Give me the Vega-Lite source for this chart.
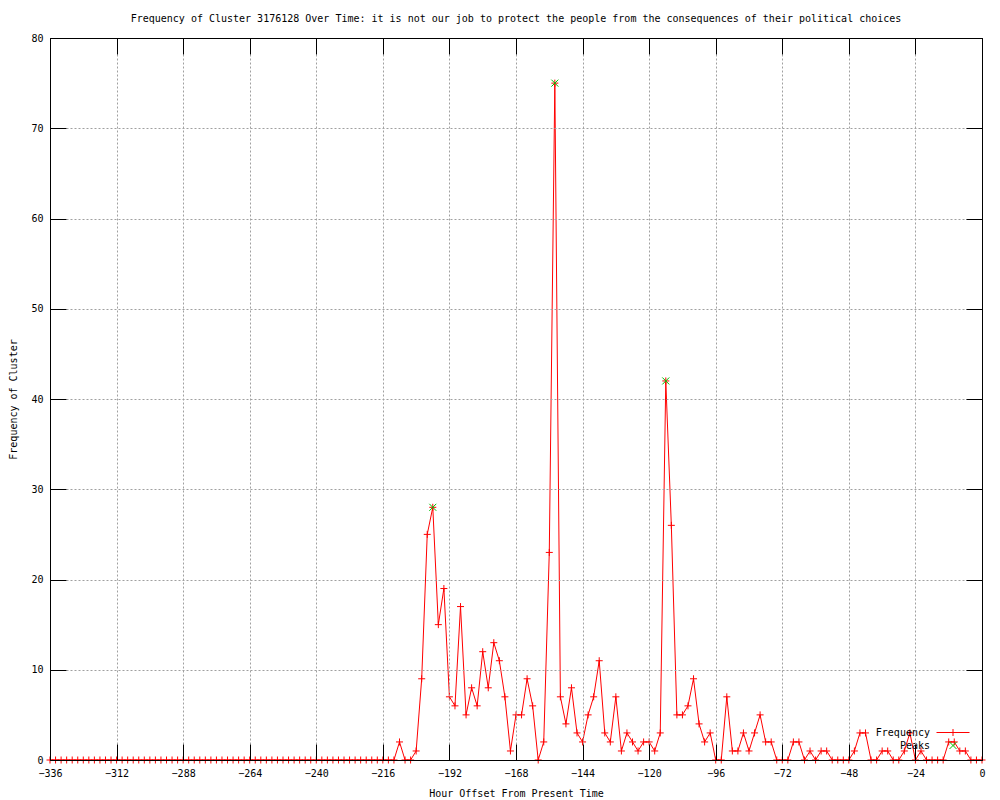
{
  "$schema": "https://vega.github.io/schema/vega-lite/v6.json",
  "width": 932,
  "height": 722,
  "autosize": {"type": "none"},
  "padding": {"left": 50, "top": 38, "right": 18, "bottom": 40},
  "background": "white",
  "title": {
    "text": "Frequency of Cluster 3176128 Over Time: it is not our job to protect the people from the consequences of their political choices",
    "font": "DejaVu Sans Mono",
    "fontSize": 10,
    "fontWeight": "normal",
    "color": "black",
    "anchor": "middle",
    "offset": 9
  },
  "config": {
    "font": "DejaVu Sans Mono",
    "view": {"stroke": "black", "strokeWidth": 1},
    "axis": {
      "labelFont": "DejaVu Sans Mono",
      "labelFontSize": 10,
      "labelColor": "black",
      "labelFlush": false,
      "labelOverlap": false,
      "titleFont": "DejaVu Sans Mono",
      "titleFontSize": 10,
      "titleFontWeight": "normal",
      "titleColor": "black",
      "tickColor": "black",
      "tickWidth": 1,
      "tickSize": -16,
      "domain": true,
      "domainColor": "black",
      "domainWidth": 1,
      "gridColor": "#a0a0a0",
      "gridDash": [2, 2],
      "gridWidth": 1,
      "gridOpacity": 1
    }
  },
  "datasets": {
    "freq": [
      {"hour": -336, "freq": 0}, {"hour": -334, "freq": 0}, {"hour": -332, "freq": 0}, {"hour": -330, "freq": 0},
      {"hour": -328, "freq": 0}, {"hour": -326, "freq": 0}, {"hour": -324, "freq": 0}, {"hour": -322, "freq": 0},
      {"hour": -320, "freq": 0}, {"hour": -318, "freq": 0}, {"hour": -316, "freq": 0}, {"hour": -314, "freq": 0},
      {"hour": -312, "freq": 0}, {"hour": -310, "freq": 0}, {"hour": -308, "freq": 0}, {"hour": -306, "freq": 0},
      {"hour": -304, "freq": 0}, {"hour": -302, "freq": 0}, {"hour": -300, "freq": 0}, {"hour": -298, "freq": 0},
      {"hour": -296, "freq": 0}, {"hour": -294, "freq": 0}, {"hour": -292, "freq": 0}, {"hour": -290, "freq": 0},
      {"hour": -288, "freq": 0}, {"hour": -286, "freq": 0}, {"hour": -284, "freq": 0}, {"hour": -282, "freq": 0},
      {"hour": -280, "freq": 0}, {"hour": -278, "freq": 0}, {"hour": -276, "freq": 0}, {"hour": -274, "freq": 0},
      {"hour": -272, "freq": 0}, {"hour": -270, "freq": 0}, {"hour": -268, "freq": 0}, {"hour": -266, "freq": 0},
      {"hour": -264, "freq": 0}, {"hour": -262, "freq": 0}, {"hour": -260, "freq": 0}, {"hour": -258, "freq": 0},
      {"hour": -256, "freq": 0}, {"hour": -254, "freq": 0}, {"hour": -252, "freq": 0}, {"hour": -250, "freq": 0},
      {"hour": -248, "freq": 0}, {"hour": -246, "freq": 0}, {"hour": -244, "freq": 0}, {"hour": -242, "freq": 0},
      {"hour": -240, "freq": 0}, {"hour": -238, "freq": 0}, {"hour": -236, "freq": 0}, {"hour": -234, "freq": 0},
      {"hour": -232, "freq": 0}, {"hour": -230, "freq": 0}, {"hour": -228, "freq": 0}, {"hour": -226, "freq": 0},
      {"hour": -224, "freq": 0}, {"hour": -222, "freq": 0}, {"hour": -220, "freq": 0}, {"hour": -218, "freq": 0},
      {"hour": -216, "freq": 0}, {"hour": -214, "freq": 0}, {"hour": -212, "freq": 0}, {"hour": -210, "freq": 2},
      {"hour": -208, "freq": 0}, {"hour": -206, "freq": 0}, {"hour": -204, "freq": 1}, {"hour": -202, "freq": 9},
      {"hour": -200, "freq": 25}, {"hour": -198, "freq": 28}, {"hour": -196, "freq": 15}, {"hour": -194, "freq": 19},
      {"hour": -192, "freq": 7}, {"hour": -190, "freq": 6}, {"hour": -188, "freq": 17}, {"hour": -186, "freq": 5},
      {"hour": -184, "freq": 8}, {"hour": -182, "freq": 6}, {"hour": -180, "freq": 12}, {"hour": -178, "freq": 8},
      {"hour": -176, "freq": 13}, {"hour": -174, "freq": 11}, {"hour": -172, "freq": 7}, {"hour": -170, "freq": 1},
      {"hour": -168, "freq": 5}, {"hour": -166, "freq": 5}, {"hour": -164, "freq": 9}, {"hour": -162, "freq": 6},
      {"hour": -160, "freq": 0}, {"hour": -158, "freq": 2}, {"hour": -156, "freq": 23}, {"hour": -154, "freq": 75},
      {"hour": -152, "freq": 7}, {"hour": -150, "freq": 4}, {"hour": -148, "freq": 8}, {"hour": -146, "freq": 3},
      {"hour": -144, "freq": 2}, {"hour": -142, "freq": 5}, {"hour": -140, "freq": 7}, {"hour": -138, "freq": 11},
      {"hour": -136, "freq": 3}, {"hour": -134, "freq": 2}, {"hour": -132, "freq": 7}, {"hour": -130, "freq": 1},
      {"hour": -128, "freq": 3}, {"hour": -126, "freq": 2}, {"hour": -124, "freq": 1}, {"hour": -122, "freq": 2},
      {"hour": -120, "freq": 2}, {"hour": -118, "freq": 1}, {"hour": -116, "freq": 3}, {"hour": -114, "freq": 42},
      {"hour": -112, "freq": 26}, {"hour": -110, "freq": 5}, {"hour": -108, "freq": 5}, {"hour": -106, "freq": 6},
      {"hour": -104, "freq": 9}, {"hour": -102, "freq": 4}, {"hour": -100, "freq": 2}, {"hour": -98, "freq": 3},
      {"hour": -96, "freq": 0}, {"hour": -94, "freq": 0}, {"hour": -92, "freq": 7}, {"hour": -90, "freq": 1},
      {"hour": -88, "freq": 1}, {"hour": -86, "freq": 3}, {"hour": -84, "freq": 1}, {"hour": -82, "freq": 3},
      {"hour": -80, "freq": 5}, {"hour": -78, "freq": 2}, {"hour": -76, "freq": 2}, {"hour": -74, "freq": 0},
      {"hour": -72, "freq": 0}, {"hour": -70, "freq": 0}, {"hour": -68, "freq": 2}, {"hour": -66, "freq": 2},
      {"hour": -64, "freq": 0}, {"hour": -62, "freq": 1}, {"hour": -60, "freq": 0}, {"hour": -58, "freq": 1},
      {"hour": -56, "freq": 1}, {"hour": -54, "freq": 0}, {"hour": -52, "freq": 0}, {"hour": -50, "freq": 0},
      {"hour": -48, "freq": 0}, {"hour": -46, "freq": 1}, {"hour": -44, "freq": 3}, {"hour": -42, "freq": 3},
      {"hour": -40, "freq": 0}, {"hour": -38, "freq": 0}, {"hour": -36, "freq": 1}, {"hour": -34, "freq": 1},
      {"hour": -32, "freq": 0}, {"hour": -30, "freq": 0}, {"hour": -28, "freq": 1}, {"hour": -26, "freq": 3},
      {"hour": -24, "freq": 0}, {"hour": -22, "freq": 1}, {"hour": -20, "freq": 0}, {"hour": -18, "freq": 0},
      {"hour": -16, "freq": 0}, {"hour": -14, "freq": 0}, {"hour": -12, "freq": 2}, {"hour": -10, "freq": 2},
      {"hour": -8, "freq": 1}, {"hour": -6, "freq": 1}, {"hour": -4, "freq": 0}, {"hour": -2, "freq": 0},
      {"hour": 0, "freq": 0}
    ],
    "peaks": [
      {"hour": -198, "freq": 28},
      {"hour": -154, "freq": 75},
      {"hour": -114, "freq": 42}
    ]
  },
  "layer": [
    {
      "data": {"name": "freq"},
      "mark": {"type": "line", "strokeWidth": 1, "interpolate": "linear"},
      "encoding": {
        "x": {
          "field": "hour",
          "type": "quantitative",
          "scale": {"domain": [-336, 0], "nice": false, "zero": false},
          "axis": {
            "orient": "bottom",
            "values": [-336, -312, -288, -264, -240, -216, -192, -168, -144, -120, -96, -72, -48, -24, 0],
            "title": "Hour Offset From Present Time",
            "grid": true,
            "labelPadding": 24,
            "titlePadding": 10,
            "zindex": 1
          }
        },
        "y": {
          "field": "freq",
          "type": "quantitative",
          "scale": {"domain": [0, 80], "nice": false, "zero": false},
          "axis": {
            "orient": "left",
            "values": [0, 10, 20, 30, 40, 50, 60, 70, 80],
            "title": "Frequency of Cluster",
            "grid": true,
            "labelPadding": 23,
            "titlePadding": 12,
            "zindex": 1
          }
        },
        "color": {
          "datum": "Frequency",
          "scale": {"domain": ["Frequency", "Peaks"], "range": ["#ff0000", "#00c000"]},
          "legend": {
            "title": null,
            "orient": "none",
            "legendX": 827,
            "legendY": 689,
            "padding": 0,
            "rowPadding": 2,
            "symbolSize": 100,
            "symbolStrokeWidth": 1,
            "labelFont": "DejaVu Sans Mono",
            "labelFontSize": 10,
            "labelColor": "black",
            "labelLimit": 300,
            "encode": {
              "symbols": {
                "update": {
                  "shape": {"signal": "datum.value === 'Frequency' ? 'M-3.3,0L3.3,0M0,-0.7L0,0.7' : 'M-0.7,-0.7L0.7,0.7M-0.7,0.7L0.7,-0.7'"},
                  "stroke": {"signal": "datum.value === 'Frequency' ? '#ff0000' : '#00c000'"},
                  "fill": {"value": "transparent"},
                  "strokeWidth": {"value": 1},
                  "size": {"value": 100},
                  "opacity": {"value": 1},
                  "x": {"value": 76}
                }
              },
              "labels": {
                "update": {
                  "x": {"value": 53},
                  "align": {"value": "right"},
                  "opacity": {"value": 1}
                }
              }
            }
          }
        }
      }
    },
    {
      "data": {"name": "freq"},
      "mark": {"type": "point", "shape": "M-1,0L1,0M0,-1L0,1", "size": 49, "filled": false, "strokeWidth": 1, "color": "#ff0000", "opacity": 1},
      "encoding": {
        "x": {
          "field": "hour",
          "type": "quantitative",
          "axis": {
            "orient": "top",
            "values": [-336, -312, -288, -264, -240, -216, -192, -168, -144, -120, -96, -72, -48, -24, 0],
            "labels": false,
            "title": null,
            "grid": false,
            "zindex": 1
          }
        },
        "y": {
          "field": "freq",
          "type": "quantitative",
          "axis": {
            "orient": "right",
            "values": [0, 10, 20, 30, 40, 50, 60, 70, 80],
            "labels": false,
            "title": null,
            "grid": false,
            "zindex": 1
          }
        }
      }
    },
    {
      "data": {"name": "peaks"},
      "mark": {"type": "point", "shape": "M-1,-1L1,1M-1,1L1,-1", "size": 49, "filled": false, "strokeWidth": 1, "color": "#00c000", "opacity": 1},
      "encoding": {
        "x": {"field": "hour", "type": "quantitative", "axis": null},
        "y": {"field": "freq", "type": "quantitative", "axis": null}
      }
    }
  ],
  "resolve": {"axis": {"x": "independent", "y": "independent"}}
}
